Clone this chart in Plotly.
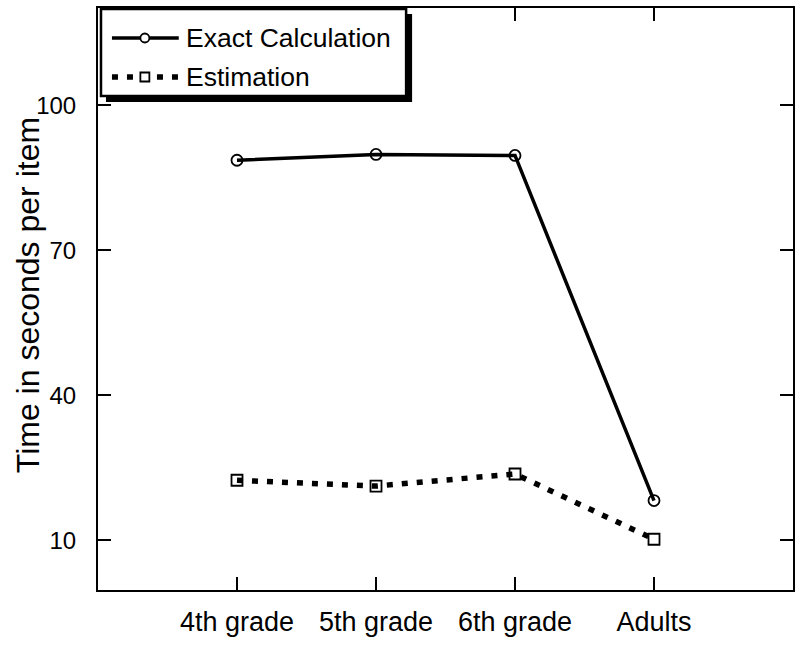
import plotly.graph_objects as go

FONT = 'Liberation Sans, Arial, sans-serif'

groups = ['4th grade', '5th grade', '6th grade', 'Adults']
exact_calc = [88.6, 89.8, 89.6, 18.2]
estimation = [22.4, 21.2, 23.7, 10.2]
y_ticks = [10, 40, 70, 100]
series_names = ['Exact Calculation', 'Estimation']

# plot area in pixels (figure is 800x646)
L, R, T, B = 98, 795, 8, 590


def px(x):
    return (x - L) / (R - L)


def py(y):
    return (B - y) / (B - T)


fig = go.Figure()

fig.add_trace(go.Scatter(
    x=list(range(len(groups))), y=exact_calc,
    mode='lines+markers', name=series_names[0],
    line=dict(color='black', width=3.5),
    marker=dict(symbol='circle-open', size=11, color='black', line=dict(width=1.8)),
))
fig.add_trace(go.Scatter(
    x=list(range(len(groups))), y=estimation,
    mode='lines+markers', name=series_names[1],
    line=dict(color='black', width=5.5, dash='6px,9px'),
    marker=dict(symbol='square-open', size=11, color='black', line=dict(width=1.8)),
))

# ── hand-drawn legend box with drop shadow ────────────────────────────────────
shapes = [
    dict(type='rect', xref='paper', yref='paper',
         x0=px(106), x1=px(413), y0=py(102), y1=py(14),
         fillcolor='black', line=dict(width=0), layer='above'),
    dict(type='rect', xref='paper', yref='paper',
         x0=px(101), x1=px(407), y0=py(96), y1=py(9),
         fillcolor='white', line=dict(color='black', width=2.5), layer='above'),
    dict(type='line', xref='paper', yref='paper',
         x0=px(112), x1=px(179), y0=py(38), y1=py(38),
         line=dict(color='black', width=3.5), layer='above'),
    dict(type='circle', xref='paper', yref='paper',
         xsizemode='pixel', ysizemode='pixel', xanchor=px(145), yanchor=py(38),
         x0=-4.5, x1=4.5, y0=-4.5, y1=4.5,
         fillcolor='white', line=dict(color='black', width=1.8), layer='above'),
    dict(type='line', xref='paper', yref='paper',
         x0=px(112), x1=px(179), y0=py(77), y1=py(77),
         line=dict(color='black', width=5.5, dash='6px,9px'), layer='above'),
    dict(type='rect', xref='paper', yref='paper',
         xsizemode='pixel', ysizemode='pixel', xanchor=px(145), yanchor=py(77),
         x0=-4.5, x1=4.5, y0=-4.5, y1=4.5,
         fillcolor='white', line=dict(color='black', width=1.8), layer='above'),
]
annotations = [
    dict(text=series_names[0], xref='paper', yref='paper', x=px(184), y=py(38),
         xanchor='left', yanchor='middle', showarrow=False,
         font=dict(family=FONT, size=26.5, color='black')),
    dict(text=series_names[1], xref='paper', yref='paper', x=px(184), y=py(77),
         xanchor='left', yanchor='middle', showarrow=False,
         font=dict(family=FONT, size=26.5, color='black')),
    dict(text='Time in seconds per item', xref='paper', yref='paper',
         x=px(28), y=py(295), xanchor='center', yanchor='middle',
         textangle=-90, showarrow=False,
         font=dict(family=FONT, size=32, color='black')),
]

fig.update_layout(
    width=800, height=646,
    paper_bgcolor='white', plot_bgcolor='white',
    font=dict(family=FONT, size=25, color='black'),
    margin=dict(l=L, r=800 - R, t=T, b=646 - B),
    showlegend=False,
    shapes=shapes,
    annotations=annotations,
)

fig.update_xaxes(
    range=[-1, 4],
    tickvals=list(range(len(groups))), ticktext=groups,
    ticks='inside', ticklen=13, tickwidth=2, tickcolor='black',
    showline=True, linecolor='black', linewidth=2, mirror='allticks',
    showgrid=False, zeroline=False,
    tickfont=dict(size=27, family=FONT),
    ticklabelstandoff=7,
)
fig.update_yaxes(
    range=[-0.3, 120.1],
    tickvals=y_ticks,
    ticks='inside', ticklen=13, tickwidth=2, tickcolor='black',
    showline=True, linecolor='black', linewidth=2, mirror='allticks',
    showgrid=False, zeroline=False,
    tickfont=dict(size=24, family=FONT),
    ticklabelstandoff=15,
)

# page body has an 8px default margin; drop it so the figure sits at 0,0
fig.write_html('out.html',
               config=dict(displayModeBar=False),
               post_script="document.body.style.margin='0';")
